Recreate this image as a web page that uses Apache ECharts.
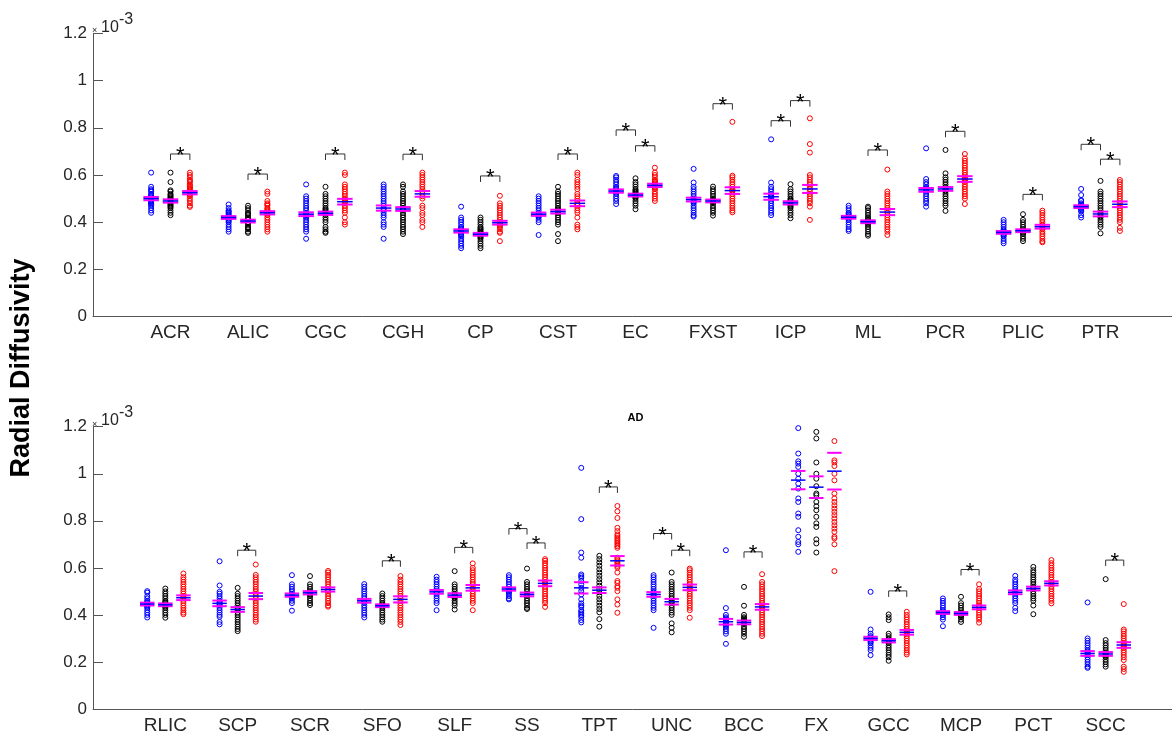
<!DOCTYPE html>
<html><head><meta charset="utf-8">
<script src="https://cdn.jsdelivr.net/npm/echarts@6/dist/echarts.min.js"></script>
<style>html,body{margin:0;padding:0;background:#fff}#c{width:1172px;height:736px}</style>
</head><body><div id="c"></div><script>
// ---------------- DATA (values in units of 1e-3) ----------------
const topCategories = ['ACR','ALIC','CGC','CGH','CP','CST','EC','FXST','ICP','ML','PCR','PLIC','PTR'];
const bottomCategories = ['RLIC','SCP','SCR','SFO','SLF','SS','TPT','UNC','BCC','FX','GCC','MCP','PCT','SCC'];
const yTicks = [0, 0.2, 0.4, 0.6, 0.8, 1, 1.2];

const topBlue = [
 [0.61,0.55,0.54,0.535,0.53,0.52,0.515,0.51,0.505,0.50,0.495,0.49,0.485,0.48,0.475,0.47,0.46,0.45,0.44],
 [0.475,0.46,0.45,0.445,0.44,0.435,0.43,0.425,0.42,0.415,0.41,0.405,0.40,0.39,0.38,0.37,0.36],
 [0.56,0.51,0.50,0.49,0.48,0.47,0.46,0.45,0.44,0.435,0.43,0.425,0.42,0.41,0.40,0.39,0.38,0.37,0.36,0.33],
 [0.56,0.55,0.54,0.53,0.52,0.51,0.50,0.49,0.48,0.47,0.46,0.455,0.45,0.44,0.43,0.42,0.40,0.39,0.38,0.33],
 [0.466,0.42,0.41,0.40,0.39,0.38,0.375,0.37,0.365,0.36,0.355,0.35,0.345,0.34,0.33,0.32,0.31,0.30,0.29],
 [0.51,0.50,0.49,0.48,0.47,0.46,0.45,0.44,0.435,0.43,0.425,0.42,0.41,0.40,0.346],
 [0.596,0.59,0.58,0.57,0.56,0.55,0.545,0.54,0.535,0.53,0.525,0.52,0.51,0.50,0.49,0.477],
 [0.626,0.568,0.55,0.54,0.53,0.52,0.51,0.50,0.495,0.49,0.485,0.48,0.47,0.46,0.45,0.44,0.43,0.424],
 [0.751,0.568,0.55,0.54,0.53,0.52,0.515,0.51,0.505,0.50,0.49,0.48,0.47,0.46,0.45,0.44,0.43],
 [0.47,0.46,0.45,0.44,0.435,0.43,0.425,0.42,0.415,0.41,0.40,0.39,0.38,0.37,0.363],
 [0.713,0.583,0.57,0.56,0.55,0.545,0.54,0.535,0.53,0.52,0.51,0.50,0.49,0.48,0.466],
 [0.41,0.40,0.39,0.38,0.37,0.365,0.36,0.355,0.35,0.345,0.34,0.33,0.32,0.311],
 [0.541,0.515,0.494,0.49,0.48,0.475,0.47,0.465,0.46,0.455,0.45,0.445,0.43,0.42]
];
const topBlack = [
 [0.61,0.57,0.535,0.53,0.52,0.515,0.51,0.505,0.50,0.495,0.49,0.485,0.48,0.475,0.47,0.465,0.46,0.45,0.44,0.43],
 [0.47,0.46,0.45,0.44,0.435,0.43,0.42,0.415,0.41,0.40,0.395,0.39,0.38,0.375,0.37,0.36,0.355],
 [0.55,0.52,0.51,0.50,0.49,0.48,0.47,0.46,0.455,0.45,0.445,0.44,0.435,0.43,0.42,0.41,0.40,0.38,0.37,0.36,0.355],
 [0.56,0.55,0.53,0.52,0.51,0.50,0.49,0.48,0.47,0.46,0.455,0.45,0.44,0.43,0.42,0.41,0.40,0.39,0.38,0.37,0.36,0.35],
 [0.42,0.41,0.40,0.39,0.38,0.375,0.37,0.365,0.36,0.355,0.35,0.345,0.34,0.335,0.33,0.32,0.31,0.30,0.29],
 [0.55,0.53,0.52,0.51,0.50,0.49,0.48,0.47,0.46,0.455,0.45,0.445,0.44,0.43,0.42,0.41,0.40,0.39,0.35,0.32],
 [0.586,0.57,0.56,0.55,0.54,0.535,0.53,0.525,0.52,0.515,0.51,0.505,0.50,0.49,0.48,0.47,0.455],
 [0.551,0.54,0.53,0.52,0.51,0.50,0.495,0.49,0.485,0.48,0.47,0.46,0.45,0.44,0.428],
 [0.561,0.54,0.53,0.52,0.51,0.50,0.495,0.49,0.485,0.48,0.475,0.47,0.465,0.46,0.45,0.44,0.43,0.417],
 [0.466,0.46,0.45,0.44,0.43,0.42,0.415,0.41,0.405,0.40,0.395,0.39,0.38,0.37,0.36,0.35,0.343],
 [0.706,0.607,0.59,0.58,0.57,0.56,0.55,0.545,0.54,0.535,0.53,0.52,0.51,0.50,0.49,0.48,0.47,0.448],
 [0.434,0.41,0.40,0.39,0.38,0.37,0.365,0.36,0.355,0.35,0.34,0.33,0.32],
 [0.575,0.53,0.52,0.51,0.50,0.49,0.48,0.47,0.46,0.45,0.44,0.435,0.43,0.425,0.42,0.41,0.40,0.39,0.38,0.353]
];
const topRed = [
 [0.61,0.60,0.59,0.58,0.575,0.57,0.56,0.555,0.55,0.545,0.54,0.535,0.53,0.525,0.52,0.515,0.51,0.50,0.49,0.48,0.47,0.465],
 [0.53,0.52,0.49,0.48,0.475,0.47,0.46,0.455,0.45,0.445,0.44,0.435,0.43,0.42,0.41,0.40,0.39,0.38,0.37,0.36],
 [0.61,0.60,0.56,0.55,0.54,0.53,0.52,0.51,0.50,0.495,0.49,0.485,0.48,0.47,0.46,0.45,0.44,0.42,0.40,0.39],
 [0.61,0.60,0.59,0.58,0.57,0.56,0.55,0.54,0.53,0.52,0.51,0.50,0.47,0.46,0.44,0.43,0.41,0.40,0.38],
 [0.512,0.48,0.47,0.46,0.45,0.44,0.43,0.42,0.41,0.40,0.395,0.39,0.385,0.38,0.37,0.36,0.355,0.32],
 [0.61,0.60,0.58,0.57,0.56,0.55,0.54,0.52,0.51,0.50,0.49,0.48,0.475,0.47,0.46,0.45,0.44,0.42,0.39,0.38,0.37],
 [0.631,0.61,0.60,0.59,0.58,0.575,0.57,0.565,0.56,0.555,0.55,0.545,0.54,0.53,0.52,0.51,0.50,0.49],
 [0.825,0.597,0.59,0.58,0.57,0.56,0.55,0.54,0.535,0.53,0.52,0.51,0.50,0.49,0.48,0.47,0.46,0.45,0.442],
 [0.84,0.731,0.695,0.60,0.59,0.58,0.57,0.56,0.55,0.54,0.53,0.52,0.51,0.50,0.49,0.48,0.466,0.41],
 [0.623,0.53,0.52,0.51,0.50,0.49,0.48,0.47,0.46,0.45,0.44,0.43,0.42,0.41,0.40,0.39,0.38,0.37,0.36,0.346],
 [0.689,0.67,0.66,0.65,0.64,0.63,0.62,0.61,0.60,0.59,0.585,0.58,0.575,0.57,0.56,0.55,0.54,0.53,0.52,0.51,0.50,0.477],
 [0.449,0.44,0.43,0.42,0.41,0.40,0.39,0.385,0.38,0.375,0.37,0.36,0.35,0.34,0.33,0.32,0.315],
 [0.579,0.57,0.56,0.55,0.54,0.53,0.52,0.51,0.50,0.49,0.48,0.47,0.46,0.45,0.44,0.43,0.42,0.41,0.40,0.376,0.363]
];
// group means [blue, black, red] and half-spread of the magenta lines
const topMeans = [
 [0.50,0.49,0.525],[0.42,0.405,0.44],[0.434,0.438,0.487],[0.46,0.456,0.52],[0.363,0.349,0.398],
 [0.434,0.445,0.48],[0.532,0.515,0.556],[0.496,0.49,0.534],[0.508,0.482,0.541],[0.421,0.402,0.443],
 [0.537,0.541,0.583],[0.357,0.364,0.381],[0.466,0.435,0.476]
];
const topSpread = [
 [0.007,0.007,0.007],[0.006,0.006,0.007],[0.008,0.007,0.012],[0.011,0.008,0.012],[0.007,0.006,0.008],
 [0.007,0.008,0.012],[0.007,0.006,0.007],[0.008,0.006,0.014],[0.013,0.007,0.017],[0.006,0.006,0.013],
 [0.008,0.008,0.012],[0.006,0.006,0.008],[0.006,0.01,0.012]
];
// significance brackets: [category index (0-based), group from, group to, bracket height]
const topSig = [
 [0,1,2,0.689],[1,1,2,0.604],[2,1,2,0.689],[3,1,2,0.688],[4,1,2,0.596],[5,1,2,0.689],
 [6,0,1,0.791],[6,1,2,0.724],[7,1,2,0.902],[8,0,1,0.83],[8,1,2,0.915],[9,1,2,0.706],
 [10,1,2,0.785],[11,1,2,0.518],[12,0,1,0.73],[12,1,2,0.667]
];

const bottomBlue = [
 [0.501,0.495,0.48,0.47,0.46,0.455,0.45,0.445,0.44,0.435,0.43,0.42,0.41,0.40,0.389],
 [0.628,0.525,0.498,0.49,0.48,0.47,0.46,0.455,0.45,0.445,0.44,0.43,0.42,0.41,0.40,0.392,0.37,0.36],
 [0.569,0.53,0.52,0.51,0.50,0.49,0.485,0.48,0.475,0.47,0.46,0.45,0.418],
 [0.531,0.52,0.51,0.50,0.49,0.48,0.47,0.46,0.455,0.45,0.44,0.43,0.42,0.41,0.40,0.389],
 [0.562,0.55,0.54,0.53,0.52,0.51,0.50,0.495,0.49,0.48,0.47,0.46,0.45,0.42],
 [0.569,0.56,0.55,0.54,0.53,0.52,0.51,0.505,0.50,0.495,0.49,0.48,0.47,0.466],
 [1.025,0.807,0.665,0.643,0.572,0.565,0.558,0.544,0.53,0.515,0.501,0.487,0.466,0.449,0.44,0.434,0.42,0.413,0.406,0.399,0.392,0.378,0.368],
 [0.569,0.56,0.55,0.54,0.53,0.52,0.51,0.50,0.495,0.49,0.485,0.48,0.47,0.46,0.45,0.44,0.43,0.42,0.345],
 [0.675,0.429,0.40,0.39,0.385,0.38,0.375,0.37,0.365,0.36,0.355,0.35,0.34,0.33,0.32,0.277],
 [1.194,1.086,1.053,1.043,1.029,1.0,0.979,0.958,0.937,0.895,0.88,0.831,0.817,0.76,0.732,0.71,0.70,0.668],
 [0.498,0.338,0.32,0.31,0.305,0.30,0.295,0.29,0.285,0.28,0.27,0.26,0.25,0.229],
 [0.47,0.46,0.45,0.44,0.43,0.42,0.415,0.41,0.405,0.40,0.39,0.38,0.352],
 [0.566,0.55,0.54,0.53,0.52,0.51,0.50,0.495,0.49,0.48,0.47,0.46,0.45,0.43,0.416],
 [0.453,0.30,0.29,0.28,0.27,0.26,0.25,0.245,0.24,0.235,0.23,0.22,0.21,0.20,0.19,0.18,0.175]
];
const bottomBlack = [
 [0.512,0.50,0.49,0.48,0.47,0.46,0.455,0.45,0.445,0.44,0.435,0.43,0.42,0.41,0.40,0.388],
 [0.515,0.49,0.48,0.47,0.46,0.45,0.44,0.43,0.425,0.42,0.41,0.40,0.39,0.38,0.37,0.36,0.35,0.34,0.331],
 [0.565,0.53,0.52,0.51,0.50,0.495,0.49,0.485,0.48,0.47,0.46,0.45,0.442],
 [0.491,0.48,0.47,0.46,0.45,0.445,0.44,0.435,0.43,0.42,0.41,0.40,0.39,0.38,0.371],
 [0.586,0.53,0.52,0.51,0.50,0.49,0.485,0.48,0.475,0.47,0.46,0.45,0.44,0.423],
 [0.597,0.54,0.53,0.52,0.51,0.50,0.49,0.485,0.48,0.47,0.46,0.45,0.44,0.43,0.425],
 [0.651,0.637,0.623,0.609,0.594,0.58,0.566,0.552,0.538,0.524,0.51,0.496,0.481,0.467,0.453,0.439,0.425,0.411,0.382,0.35],
 [0.58,0.54,0.53,0.52,0.51,0.50,0.49,0.48,0.47,0.46,0.455,0.45,0.44,0.43,0.42,0.41,0.40,0.364,0.345,0.326],
 [0.519,0.439,0.40,0.39,0.385,0.38,0.375,0.37,0.365,0.36,0.35,0.34,0.33,0.32,0.307],
 [1.178,1.15,1.048,1.0,0.979,0.947,0.916,0.909,0.88,0.862,0.845,0.817,0.789,0.774,0.721,0.704,0.665],
 [0.402,0.39,0.378,0.32,0.31,0.30,0.295,0.29,0.285,0.28,0.27,0.26,0.25,0.24,0.23,0.22,0.205],
 [0.477,0.45,0.44,0.43,0.42,0.41,0.405,0.40,0.395,0.39,0.38,0.37],
 [0.604,0.59,0.58,0.57,0.56,0.55,0.54,0.53,0.52,0.515,0.51,0.50,0.49,0.48,0.47,0.46,0.44,0.403],
 [0.552,0.293,0.28,0.27,0.26,0.25,0.24,0.235,0.23,0.225,0.22,0.21,0.20,0.19,0.18]
];
const bottomRed = [
 [0.576,0.56,0.55,0.54,0.53,0.52,0.51,0.50,0.49,0.48,0.475,0.47,0.46,0.45,0.44,0.43,0.42,0.41,0.403],
 [0.614,0.57,0.56,0.55,0.54,0.53,0.52,0.51,0.50,0.49,0.48,0.47,0.46,0.45,0.44,0.43,0.42,0.41,0.40,0.39,0.38,0.371],
 [0.587,0.58,0.57,0.56,0.55,0.54,0.53,0.52,0.51,0.505,0.50,0.49,0.48,0.47,0.46,0.45,0.44,0.435],
 [0.565,0.55,0.54,0.53,0.52,0.51,0.50,0.49,0.48,0.47,0.46,0.45,0.44,0.43,0.42,0.41,0.40,0.39,0.38,0.37,0.357],
 [0.619,0.60,0.59,0.58,0.57,0.56,0.55,0.54,0.53,0.52,0.51,0.50,0.49,0.48,0.47,0.46,0.45,0.42],
 [0.637,0.63,0.62,0.61,0.60,0.59,0.58,0.57,0.56,0.55,0.54,0.535,0.53,0.52,0.51,0.50,0.49,0.48,0.47,0.46,0.45,0.434],
 [0.863,0.84,0.812,0.77,0.756,0.742,0.735,0.727,0.72,0.713,0.706,0.699,0.692,0.685,0.643,0.636,0.629,0.622,0.615,0.608,0.601,0.58,0.544,0.536,0.522,0.515,0.501,0.466,0.444,0.409],
 [0.597,0.59,0.58,0.57,0.56,0.55,0.54,0.53,0.52,0.515,0.51,0.50,0.49,0.48,0.47,0.46,0.45,0.44,0.43,0.42,0.388],
 [0.573,0.54,0.53,0.52,0.51,0.50,0.49,0.48,0.47,0.46,0.45,0.44,0.435,0.43,0.42,0.41,0.40,0.39,0.38,0.37,0.36,0.35,0.34,0.33,0.32,0.31],
 [1.139,1.057,1.048,1.033,1.0,0.972,0.916,0.895,0.88,0.866,0.852,0.838,0.824,0.81,0.795,0.781,0.767,0.753,0.732,0.725,0.70,0.586],
 [0.413,0.40,0.39,0.38,0.37,0.36,0.35,0.34,0.33,0.325,0.32,0.31,0.30,0.29,0.28,0.27,0.26,0.25,0.24,0.232],
 [0.53,0.51,0.50,0.49,0.48,0.47,0.46,0.45,0.44,0.435,0.43,0.42,0.41,0.40,0.39,0.38,0.367],
 [0.633,0.62,0.61,0.60,0.59,0.58,0.57,0.56,0.55,0.54,0.535,0.53,0.52,0.51,0.50,0.49,0.48,0.47,0.46,0.449],
 [0.446,0.338,0.33,0.32,0.31,0.30,0.29,0.28,0.275,0.27,0.265,0.26,0.25,0.24,0.23,0.22,0.208,0.18,0.17,0.158]
];
const bottomMeans = [
 [0.446,0.443,0.473],[0.449,0.423,0.48],[0.484,0.494,0.508],[0.46,0.439,0.466],[0.498,0.484,0.515],
 [0.51,0.487,0.534],[0.515,0.505,0.63],[0.487,0.456,0.517],[0.371,0.368,0.434],[0.973,0.943,1.011],
 [0.30,0.29,0.326],[0.41,0.406,0.432],[0.496,0.512,0.534],[0.236,0.234,0.272]
];
const bottomSpread = [
 [0.006,0.006,0.01],[0.012,0.01,0.013],[0.007,0.007,0.009],[0.008,0.006,0.013],[0.008,0.008,0.012],
 [0.007,0.008,0.012],[0.024,0.012,0.02],[0.01,0.012,0.012],[0.012,0.008,0.012],[0.039,0.046,0.078],
 [0.007,0.007,0.01],[0.006,0.006,0.008],[0.008,0.008,0.009],[0.01,0.008,0.012]
];
const bottomSig = [
 [1,1,2,0.675],[3,1,2,0.63],[4,1,2,0.687],[5,0,1,0.767],[5,1,2,0.706],[6,1,2,0.944],
 [7,0,1,0.746],[7,1,2,0.675],[8,1,2,0.668],[10,1,2,0.502],[11,1,2,0.593],[13,1,2,0.633]
];

// ---------------- STYLE / LAYOUT ----------------
const groupColors = ['#0000ff', '#000000', '#ff0000'];
const groupOffset = [-0.25, 0, 0.25];
const halfWidth = 0.1;
const FONT = 'Liberation Sans, Arial, Helvetica, sans-serif';
const axisColor = '#555555';
const textColor = '#262626';

const chart = echarts.init(document.getElementById('c'));

const panels = [
  {cats: topCategories, vals: [topBlue, topBlack, topRed], means: topMeans, spread: topSpread, sig: topSig,
   grid: {left: 93, top: 33.3, width: 1085, height: 283.4}},
  {cats: bottomCategories, vals: [bottomBlue, bottomBlack, bottomRed], means: bottomMeans, spread: bottomSpread, sig: bottomSig,
   grid: {left: 93, top: 426.7, width: 1085, height: 282.3}}
];

const grids = [], xAxes = [], yAxes = [], series = [];
panels.forEach((p, pi) => {
  grids.push(Object.assign({containLabel: false, outerBoundsMode: 'none'}, p.grid));
  xAxes.push({
    type: 'value', gridIndex: pi, min: 0, max: p.cats.length + 1, interval: 1,
    axisLine: {show: true, onZero: false, lineStyle: {color: axisColor, width: 1}},
    axisTick: {show: false}, splitLine: {show: false},
    axisLabel: {show: true, margin: 7, fontSize: 19, color: textColor, fontFamily: FONT,
      formatter: v => p.cats[Math.round(v) - 1] || '', showMinLabel: true, showMaxLabel: true, hideOverlap: false}
  });
  yAxes.push({
    type: 'value', gridIndex: pi, min: yTicks[0], max: yTicks[yTicks.length - 1], interval: yTicks[1] - yTicks[0],
    axisLine: {show: true, onZero: false, lineStyle: {color: axisColor, width: 1}},
    axisTick: {show: true, inside: true, length: 10, lineStyle: {color: axisColor}},
    splitLine: {show: false},
    axisLabel: {margin: 6, fontSize: 17, color: textColor, fontFamily: FONT,
      formatter: v => String(Math.round(v * 10) / 10)}
  });
  // scatter points
  p.vals.forEach((gv, g) => {
    const data = [];
    gv.forEach((arr, i) => arr.forEach(v => data.push([i + 1 + groupOffset[g], v])));
    series.push({
      type: 'scatter', xAxisIndex: pi, yAxisIndex: pi, data, symbol: 'circle', symbolSize: 5,
      itemStyle: {color: 'rgba(0,0,0,0)', borderColor: groupColors[g], borderWidth: 1, opacity: 1},
      emphasis: {disabled: true}, silent: true, z: 2
    });
  });
  // mean / spread lines
  const magData = [], meanData = [];
  p.means.forEach((m, i) => m.forEach((mv, g) => {
    const x = i + 1 + groupOffset[g];
    magData.push([x, mv + p.spread[i][g]]);
    magData.push([x, mv - p.spread[i][g]]);
    meanData.push([x, mv]);
  }));
  const lineSeries = (data, color, w, z) => ({
    type: 'custom', xAxisIndex: pi, yAxisIndex: pi, data, z, silent: true, clip: false,
    encode: {x: 0, y: 1},
    renderItem: (params, api) => {
      const x = api.value(0), y = api.value(1);
      const a = api.coord([x - halfWidth, y]), b = api.coord([x + halfWidth, y]);
      return {type: 'line', shape: {x1: a[0], y1: a[1], x2: b[0], y2: b[1]},
        style: {stroke: color, lineWidth: w}};
    }
  });
  series.push(lineSeries(magData, '#ff00ff', 2, 3));
  series.push(lineSeries(meanData, '#0000ff', 1.5, 4));
  // significance brackets
  const sigData = p.sig.map(s => [s[0] + 1 + groupOffset[s[1]], s[0] + 1 + groupOffset[s[2]], s[3]]);
  series.push({
    type: 'custom', xAxisIndex: pi, yAxisIndex: pi, data: sigData, z: 5, silent: true, clip: false,
    encode: {x: [0, 1], y: 2},
    renderItem: (params, api) => {
      const a = api.coord([api.value(0), api.value(2)]), b = api.coord([api.value(1), api.value(2)]);
      const leg = 6;
      return {type: 'group', children: [
        {type: 'polyline', shape: {points: [[a[0], a[1] + leg], [a[0], a[1]], [b[0], b[1]], [b[0], b[1] + leg]]},
         style: {stroke: '#333333', fill: null, lineWidth: 1}},
        {type: 'text', x: (a[0] + b[0]) / 2, y: a[1] + 2,
         style: {text: '*', fontSize: 22, fontFamily: FONT, fill: '#000', align: 'center', verticalAlign: 'middle',
                 textAlign: 'center', textVerticalAlign: 'middle'}}
      ]};
    }
  });
});

const expText = (top) => ([
  {type: 'text', left: 92, top: top - 7, style: {text: '×', fontSize: 9, fill: textColor, fontFamily: FONT}},
  {type: 'text', left: 101, top: top - 14, style: {text: '10', fontSize: 16, fill: textColor, fontFamily: FONT}},
  {type: 'text', left: 119, top: top - 22, style: {text: '-3', fontSize: 16, fill: textColor, fontFamily: FONT}}
]);

chart.setOption({
  animation: false,
  backgroundColor: '#ffffff',
  grid: grids, xAxis: xAxes, yAxis: yAxes, series,
  graphic: [
    ...expText(33.3), ...expText(426.7),
    {type: 'text', x: 22, y: 368, rotation: Math.PI / 2,
     style: {text: 'Radial Diffusivity', fontSize: 27, fontWeight: 'bold', fill: '#000', fontFamily: FONT,
             align: 'center', verticalAlign: 'middle', textAlign: 'center', textVerticalAlign: 'middle'}},
    {type: 'text', x: 635.5, y: 418,
     style: {text: 'AD', fontSize: 11, fontWeight: 'bold', fill: '#000', fontFamily: FONT,
             align: 'center', verticalAlign: 'middle', textAlign: 'center', textVerticalAlign: 'middle'}}
  ]
});
</script></body></html>
